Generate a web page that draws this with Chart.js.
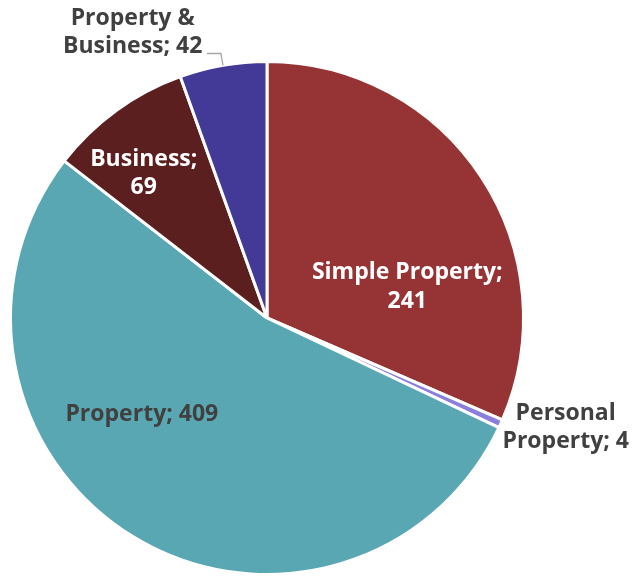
<!DOCTYPE html>
<html>
<head>
<meta charset="utf-8">
<script src="https://cdn.jsdelivr.net/npm/chart.js@4.4.0/dist/chart.umd.min.js"></script>
<style>
  html, body { margin: 0; padding: 0; background: #fff; }
  #wrap { width: 633px; height: 576px; position: relative; }
</style>
</head>
<body>
<div id="wrap"><canvas id="pieChart"></canvas></div>
<script>
// Datos del gráfico
const categories = ['Simple Property', 'Personal Property', 'Property', 'Business', 'Property & Business'];
const counts = [241, 4, 409, 69, 42];
const sliceColors = ['#953335', '#8b7fdd', '#5aa7b4', '#5b1f1f', '#433a97'];

// Etiquetas: líneas de texto, color y posición polar (ángulo en grados, distancia en radios)
const labelLines = [
    ['Simple Property;', '241'],
    ['Personal', 'Property; 4'],
    ['Property; 409'],
    ['Business;', '69'],
    ['Property &', 'Business; 42']
];
const labelColors = ['#ffffff', '#404040', '#404040', '#ffffff', '#404040'];
const labelPolar = [[-12.4, 0.56], [20.1, 1.24], [142.4, 0.616], [-130.5, 0.74], [-115.2, 1.23]];
const leaderLine = [false, false, false, false, true];

const pieLabels = {
    id: 'pieLabels',
    afterDatasetsDraw(chart) {
        const ctx = chart.ctx;
        const arcs = chart.getDatasetMeta(0).data;
        ctx.save();
        ctx.font = 'bold 23px "Open Sans"';
        ctx.textAlign = 'center';
        ctx.textBaseline = 'middle';
        arcs.forEach((arc, i) => {
            const { x, y, outerRadius, startAngle, endAngle } = arc.getProps(['x', 'y', 'outerRadius', 'startAngle', 'endAngle'], true);
            const a = labelPolar[i][0] * Math.PI / 180;
            const r = labelPolar[i][1] * outerRadius;
            const cx = x + Math.cos(a) * r;
            const cy = y + Math.sin(a) * r;
            const lines = labelLines[i];
            const lh = 28.5;
            ctx.fillStyle = labelColors[i];
            lines.forEach((t, j) => {
                ctx.fillText(t, cx, cy + (j - (lines.length - 1) / 2) * lh);
            });
            if (leaderLine[i]) {
                // línea guía desde el borde del sector hasta la etiqueta
                const mid = (startAngle + endAngle) / 2;
                const p0x = x + Math.cos(mid) * outerRadius;
                const p0y = y + Math.sin(mid) * outerRadius;
                const p1x = x + Math.cos(mid) * (outerRadius + 12);
                const p1y = y + Math.sin(mid) * (outerRadius + 12);
                ctx.strokeStyle = '#a6a6a6';
                ctx.lineWidth = 1.3;
                ctx.beginPath();
                ctx.moveTo(p0x, p0y);
                ctx.lineTo(p1x, p1y);
                ctx.lineTo(p1x - 14, p1y);
                ctx.stroke();
            }
        });
        ctx.restore();
    }
};

const pieCtx = document.getElementById('pieChart').getContext('2d');
const pieChart = new Chart(pieCtx, {
    type: 'pie',
    data: {
        labels: categories,
        datasets: [{
            data: counts,
            backgroundColor: sliceColors,
            borderColor: '#ffffff',
            borderWidth: 3
        }]
    },
    options: {
        responsive: true,
        maintainAspectRatio: false,
        animation: false,
        layout: {
            padding: { top: 60, bottom: 0, left: 9, right: 108 }
        },
        plugins: {
            legend: { display: false },
            tooltip: { enabled: false }
        }
    },
    plugins: [pieLabels]
});
</script>
</body>
</html>
